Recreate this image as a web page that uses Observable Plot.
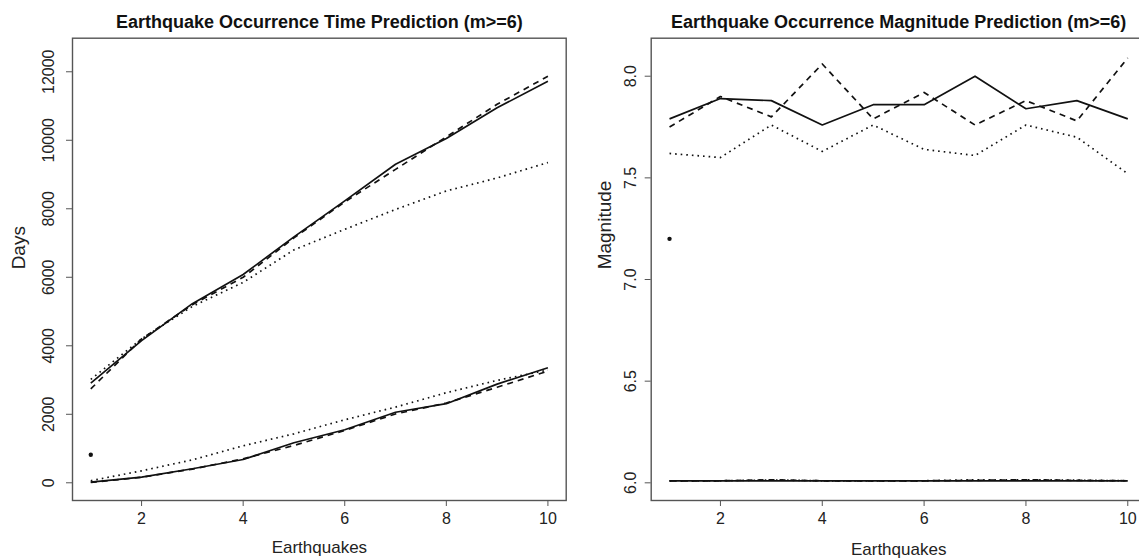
<!DOCTYPE html>
<html>
<head>
<meta charset="utf-8">
<script src="https://cdn.jsdelivr.net/npm/d3@7"></script>
<script src="https://cdn.jsdelivr.net/npm/@observablehq/plot@0.6"></script>
<style>
  html, body { margin: 0; padding: 0; background: #fff; overflow: hidden; }
  #wrap { position: relative; width: 1139px; height: 559px; overflow: hidden; background: #fff; }
  #left, #right { position: absolute; top: 0; }
  #left { left: 0; width: 570px; }
  #right { left: 570px; width: 580px; }
  svg { font-family: "Liberation Sans", Arial, sans-serif; max-width: none !important; }
</style>
</head>
<body>
<div id="wrap"><div id="left"></div><div id="right"></div></div>
<script>
// Earthquake index (1..10)
const earthquakes = [1, 2, 3, 4, 5, 6, 7, 8, 9, 10];

// Occurrence time (days) – upper group
const daysUpperSolid  = [2910, 4150, 5230, 6080, 7180, 8230, 9300, 10050, 10950, 11720];
const daysUpperDashed = [2740, 4200, 5200, 6000, 7150, 8200, 9150, 10100, 11050, 11870];
const daysUpperDotted = [3020, 4200, 5150, 5850, 6800, 7400, 7980, 8520, 8900, 9350];
// Occurrence time (days) – lower group
const daysLowerSolid  = [20, 165, 410, 680, 1170, 1550, 2060, 2310, 2880, 3360];
const daysLowerDashed = [10, 160, 400, 700, 1090, 1530, 2010, 2330, 2790, 3260];
const daysLowerDotted = [60, 350, 670, 1080, 1430, 1840, 2210, 2630, 2990, 3290];
const daysSinglePoint = [{x: 1, y: 820}];

// Magnitude – upper group
const magUpperSolid  = [7.79, 7.89, 7.88, 7.76, 7.86, 7.86, 8.00, 7.84, 7.88, 7.79];
const magUpperDashed = [7.75, 7.90, 7.80, 8.06, 7.79, 7.92, 7.76, 7.88, 7.78, 8.09];
const magUpperDotted = [7.62, 7.60, 7.76, 7.63, 7.76, 7.64, 7.61, 7.76, 7.70, 7.52];
// Magnitude – lower group
const magLowerSolid  = [6.01, 6.01, 6.01, 6.01, 6.01, 6.01, 6.01, 6.01, 6.01, 6.01];
const magLowerDashed = [6.01, 6.01, 6.015, 6.01, 6.01, 6.01, 6.012, 6.015, 6.012, 6.01];
const magLowerDotted = [6.01, 6.01, 6.014, 6.01, 6.01, 6.01, 6.015, 6.015, 6.013, 6.01];
const magSinglePoint = [{x: 1, y: 7.2}];

// Tick labels
const xTicks = [2, 4, 6, 8, 10];
const daysTicks = [0, 2000, 4000, 6000, 8000, 10000, 12000];
const magTicks = [6.0, 6.5, 7.0, 7.5, 8.0];

const dash = {solid: null, dashed: "6,5", dotted: "1.6,4"};
const rows = (ys) => earthquakes.map((x, i) => ({x, y: ys[i]}));

function panel(o) {
  const marks = [
    Plot.frame({stroke: "#555", strokeWidth: 1.4}),
    Plot.axisX({ticks: xTicks, tickSize: 6, tickPadding: 6, fontSize: 16, stroke: "#555", color: "#222", label: null}),
    Plot.axisY({ticks: o.yTicks, tickSize: 6, tickFormat: () => "", stroke: "#555", label: null}),
    Plot.text(o.yTicks, {y: (d) => d, text: o.yFormat, frameAnchor: "left", dx: -o.tickOffset, rotate: -90,
      textAnchor: "middle", lineAnchor: "middle", fontSize: 16, fill: "#222"}),
    Plot.text([o.title], {frameAnchor: "top", dy: -16, fontSize: 18, fontWeight: "bold", fill: "#111", lineAnchor: "middle"}),
    Plot.text([o.yLabel], {frameAnchor: "left", dx: -o.labelOffset, rotate: -90, fontSize: 19, fill: "#222", lineAnchor: "middle"}),
    Plot.text(["Earthquakes"], {frameAnchor: "bottom", dy: o.xLabelOffset, fontSize: 17, fill: "#222", lineAnchor: "middle"})
  ];
  for (const s of o.series) {
    marks.push(Plot.line(rows(s.values), {x: "x", y: "y", stroke: "#111", strokeWidth: 1.7,
      strokeDasharray: dash[s.style], strokeLinecap: "butt"}));
  }
  marks.push(Plot.dot(o.point, {x: "x", y: "y", r: 2.2, fill: "#111", stroke: null}));
  return Plot.plot({
    width: o.width,
    height: 559,
    marginLeft: o.marginLeft,
    marginRight: o.marginRight,
    marginTop: 37.7,
    marginBottom: 59,
    x: {domain: [0.64, 10.36]},
    y: {domain: o.yDomain},
    style: {background: "transparent", fontFamily: "'Liberation Sans', Arial, sans-serif", maxWidth: "none"},
    marks
  });
}

document.getElementById("left").append(panel({
  title: "Earthquake Occurrence Time Prediction (m>=6)",
  yLabel: "Days",
  yDomain: [-517, 12980],
  yTicks: daysTicks,
  yFormat: (d) => String(d),
  tickOffset: 24,
  labelOffset: 54,
  xLabelOffset: 47,
  width: 570,
  marginLeft: 72,
  marginRight: 4.3,
  point: daysSinglePoint,
  series: [
    {values: daysUpperSolid, style: "solid"},
    {values: daysUpperDashed, style: "dashed"},
    {values: daysUpperDotted, style: "dotted"},
    {values: daysLowerSolid, style: "solid"},
    {values: daysLowerDashed, style: "dashed"},
    {values: daysLowerDotted, style: "dotted"}
  ]
}));

document.getElementById("right").append(panel({
  title: "Earthquake Occurrence Magnitude Prediction (m>=6)",
  yLabel: "Magnitude",
  yDomain: [5.913, 8.187],
  yTicks: magTicks,
  yFormat: (d) => d.toFixed(1),
  tickOffset: 20,
  labelOffset: 46,
  xLabelOffset: 49,
  width: 580,
  marginLeft: 80.7,
  marginRight: 4.4,
  point: magSinglePoint,
  series: [
    {values: magUpperSolid, style: "solid"},
    {values: magUpperDashed, style: "dashed"},
    {values: magUpperDotted, style: "dotted"},
    {values: magLowerSolid, style: "solid"},
    {values: magLowerDashed, style: "dashed"},
    {values: magLowerDotted, style: "dotted"}
  ]
}));
</script>
</body>
</html>
